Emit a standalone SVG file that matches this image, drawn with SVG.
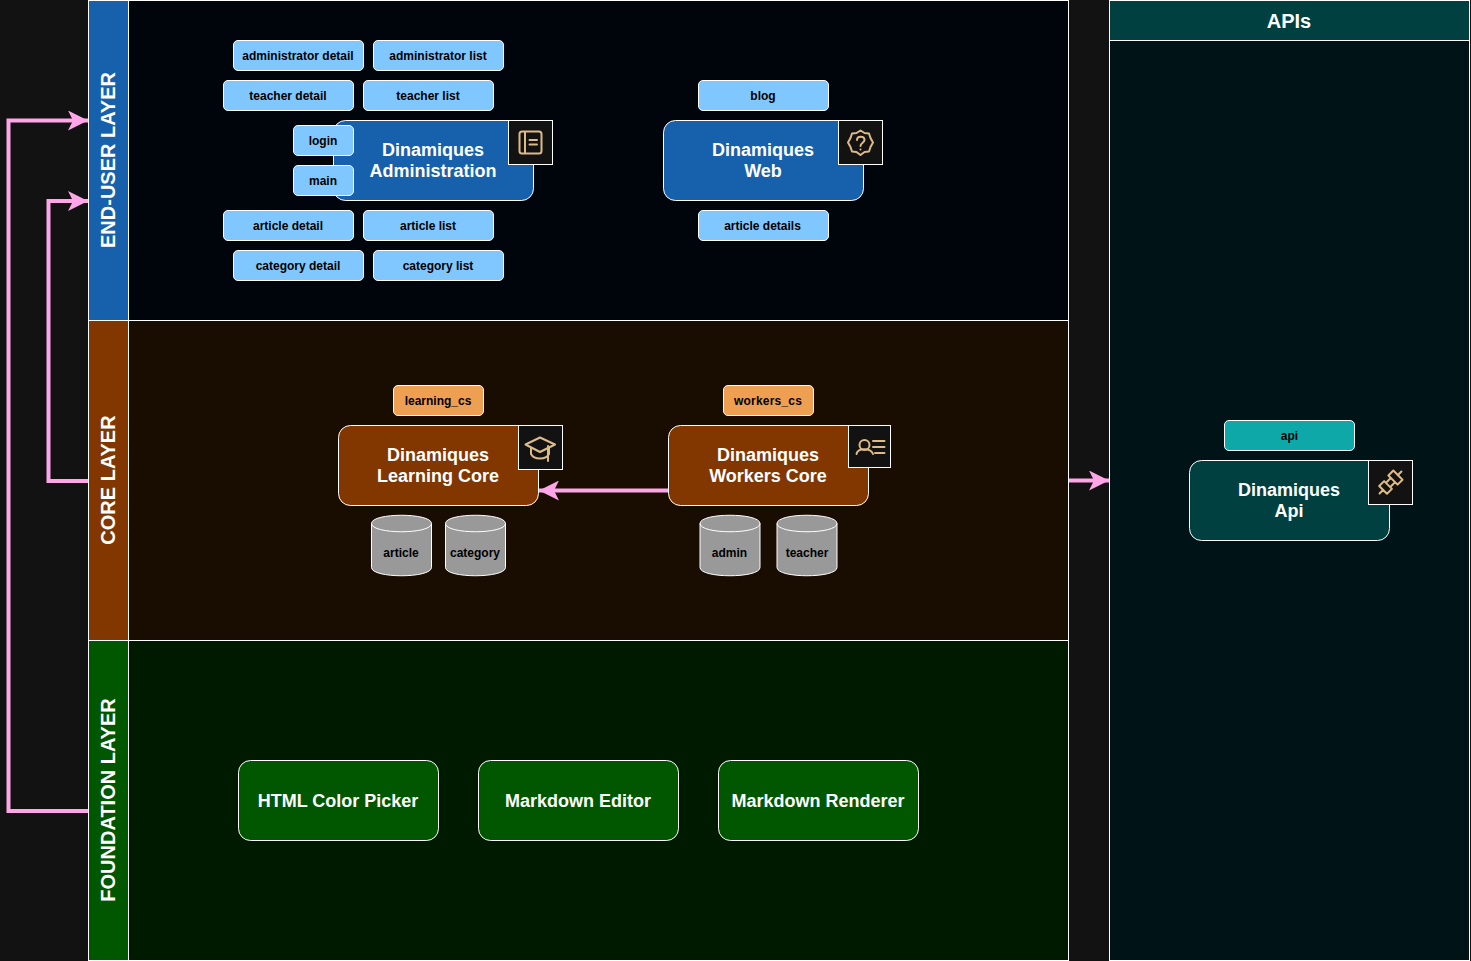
<svg xmlns="http://www.w3.org/2000/svg" width="1471" height="961" viewBox="0 0 1471 961">
<style>
text{font-family:"Liberation Sans",Arial,sans-serif;font-weight:bold;text-anchor:middle}
.ln{stroke:#fff;stroke-width:1}
.h{fill:#fff;font-size:20px}
.t{fill:#fff;font-size:18px}
.c{fill:#000;font-size:12px}
.chip{stroke:#fff;stroke-width:1}
.blue{fill:#80C7FF}.org{fill:#EE9F52}.teal{fill:#0FA8A8}
.icon{fill:#121212;stroke:#fff;stroke-width:1}
.gl{fill:none;stroke:#DDBB88;stroke-width:2;stroke-linecap:round;stroke-linejoin:round}
.cyl{fill:#999;stroke:#fff;stroke-width:1}
.cn{fill:none;stroke:#FFA6E9;stroke-width:4}
</style>
<defs>
<marker id="ah" viewBox="0 0 20 20" refX="20" refY="10" markerWidth="20" markerHeight="20" markerUnits="userSpaceOnUse" orient="auto"><path d="M0 0L20 10L0 20L5 10Z" fill="#FFA6E9"/></marker>
</defs>
<rect width="1471" height="961" fill="#121212"/>

<g id="layer-end-user"><rect class="ln" x="88.5" y="0.5" width="980" height="320" fill="#00050C"/><rect class="ln" x="88.5" y="0.5" width="40" height="320" fill="#1660AC"/><text class="h" transform="translate(114.500,160) rotate(-90)">END-USER LAYER</text></g>
<g id="layer-core"><rect class="ln" x="88.5" y="320.5" width="980" height="320" fill="#190C00"/><rect class="ln" x="88.5" y="320.5" width="40" height="320" fill="#823700"/><text class="h" transform="translate(114.500,480) rotate(-90)">CORE LAYER</text></g>
<g id="layer-foundation"><rect class="ln" x="88.5" y="640.5" width="980" height="320" fill="#001A00"/><rect class="ln" x="88.5" y="640.5" width="40" height="320" fill="#005700"/><text class="h" transform="translate(114.500,800) rotate(-90)">FOUNDATION LAYER</text></g>
<g id="layer-apis"><rect class="ln" x="1109.5" y="0.5" width="360" height="960" fill="#001417"/><rect class="ln" x="1109.5" y="0.5" width="360" height="40" fill="#004040"/><text class="h" x="1289" y="28">APIs</text></g>

<g id="connectors">
<path class="cn" marker-end="url(#ah)" d="M88 811H8.500V120.500H88"/>
<path class="cn" marker-end="url(#ah)" d="M88 481H48.500V201H88"/>
<path class="cn" marker-end="url(#ah)" d="M668 490.500H539"/>
<path class="cn" marker-end="url(#ah)" d="M1069 480.500H1109"/>
</g>

<g id="dinamiques-administration"><rect x="333.5" y="120.5" width="200" height="80" rx="12" fill="#1660AC" class="chip"/><text class="t" x="433" y="156">Dinamiques</text><text class="t" x="433" y="177">Administration</text>
<rect class="icon" x="508.5" y="120.5" width="44" height="44"/><g class="gl"><rect x="519.5" y="131.5" width="22" height="22" rx="2.5"/><path d="M525 132V153M529.5 140H537M529.5 144.5H537"/></g></g>
<g id="dinamiques-web"><rect x="663.5" y="120.5" width="200" height="80" rx="12" fill="#1660AC" class="chip"/><text class="t" x="763" y="156">Dinamiques</text><text class="t" x="763" y="177">Web</text>
<rect class="icon" x="838.5" y="120.5" width="44" height="44"/><path class="gl" d="M860.5 130.5L864.5 133L869 133.500L870.500 138L873 142.500L870.500 147L869 151.500L864.500 152L860.500 155L856.500 152L852 151.500L850.500 147L848 142.500L850.500 138L852 133.500L856.500 133Z"/><path class="gl" d="M857 140C857 135.500 864.500 135.500 864.500 140C864.500 142.500 860.500 143 860.500 146M860.500 149.500V149.600"/></g>
<g id="dinamiques-learning-core"><rect x="338.5" y="425.5" width="200" height="80" rx="12" fill="#823700" class="chip"/><text class="t" x="438" y="461">Dinamiques</text><text class="t" x="438" y="482">Learning Core</text>
<rect class="icon" x="518.5" y="425.5" width="44" height="44"/><g class="gl"><path d="M525.500 444.500L540 437.500L555 444.500L540 452Z"/><path d="M531 448V454C534 460 546 460 549 454V448M548 446L548 461"/></g></g>
<g id="dinamiques-workers-core"><rect x="668.5" y="425.5" width="200" height="80" rx="12" fill="#823700" class="chip"/><text class="t" x="768" y="461">Dinamiques</text><text class="t" x="768" y="482">Workers Core</text>
<rect class="icon" x="848.5" y="425.5" width="42" height="42"/><g class="gl"><circle cx="864.500" cy="445" r="5"/><path d="M856.500 454C857.500 447.500 871 447.500 873 454M873 441H884.500M873 447H884.500M875 453H884.500"/></g></g>
<g id="dinamiques-api"><rect x="1189.5" y="460.5" width="200" height="80" rx="12" fill="#004040" class="chip"/><text class="t" x="1289" y="496">Dinamiques</text><text class="t" x="1289" y="517">Api</text>
<rect class="icon" x="1368.5" y="460.5" width="44" height="44"/><g class="gl" transform="rotate(-45 1390.500 482.500)"><path d="M1375 482.500H1380M1401 482.500H1406M1380 477H1387V488H1380ZM1387 479.500H1390M1387 485.500H1390"/><path d="M1394 476H1401V489H1394ZM1394 479.500H1390.500M1394 485.500H1390.500"/></g></g>

<g id="html-color-picker"><rect x="238.5" y="760.5" width="200" height="80" rx="12" fill="#005700" class="chip"/><text class="t" x="338" y="807">HTML Color Picker</text></g>
<g id="markdown-editor"><rect x="478.5" y="760.5" width="200" height="80" rx="12" fill="#005700" class="chip"/><text class="t" x="578" y="807">Markdown Editor</text></g>
<g id="markdown-renderer"><rect x="718.5" y="760.5" width="200" height="80" rx="12" fill="#005700" class="chip"/><text class="t" x="818" y="807">Markdown Renderer</text></g>

<g id="chip-administrator-detail"><rect class="chip blue" x="233.5" y="40.5" width="130" height="30" rx="4.5"/><text class="c" x="298" y="60">administrator detail</text></g>
<g id="chip-administrator-list"><rect class="chip blue" x="373.5" y="40.5" width="130" height="30" rx="4.5"/><text class="c" x="438" y="60">administrator list</text></g>
<g id="chip-teacher-detail"><rect class="chip blue" x="223.5" y="80.5" width="130" height="30" rx="4.5"/><text class="c" x="288" y="100">teacher detail</text></g>
<g id="chip-teacher-list"><rect class="chip blue" x="363.5" y="80.5" width="130" height="30" rx="4.5"/><text class="c" x="428" y="100">teacher list</text></g>
<g id="chip-login"><rect class="chip blue" x="293.5" y="125.5" width="60" height="30" rx="4.5"/><text class="c" x="323" y="145">login</text></g>
<g id="chip-main"><rect class="chip blue" x="293.5" y="165.5" width="60" height="30" rx="4.5"/><text class="c" x="323" y="185">main</text></g>
<g id="chip-article-detail"><rect class="chip blue" x="223.5" y="210.5" width="130" height="30" rx="4.5"/><text class="c" x="288" y="230">article detail</text></g>
<g id="chip-article-list"><rect class="chip blue" x="363.5" y="210.5" width="130" height="30" rx="4.5"/><text class="c" x="428" y="230">article list</text></g>
<g id="chip-category-detail"><rect class="chip blue" x="233.5" y="250.5" width="130" height="30" rx="4.5"/><text class="c" x="298" y="270">category detail</text></g>
<g id="chip-category-list"><rect class="chip blue" x="373.5" y="250.5" width="130" height="30" rx="4.5"/><text class="c" x="438" y="270">category list</text></g>
<g id="chip-blog"><rect class="chip blue" x="698.5" y="80.5" width="130" height="30" rx="4.5"/><text class="c" x="763" y="100">blog</text></g>
<g id="chip-article-details"><rect class="chip blue" x="698.5" y="210.5" width="130" height="30" rx="4.5"/><text class="c" x="762.5" y="230">article details</text></g>
<g id="chip-learning-cs"><rect class="chip org" x="393.5" y="385.5" width="90" height="30" rx="4.5"/><text class="c" x="438" y="405">learning_cs</text></g>
<g id="chip-workers-cs"><rect class="chip org" x="723.5" y="385.5" width="90" height="30" rx="4.5"/><text class="c" x="768" y="405" letter-spacing="0.2">workers_cs</text></g>
<g id="chip-api"><rect class="chip teal" x="1224.5" y="420.5" width="130" height="30" rx="4.5"/><text class="c" x="1289.5" y="440">api</text></g>

<g id="db-article"><path class="cyl" d="M371.500 523.500C371.500 512.500 431.500 512.500 431.500 523.500V567.500C431.500 578.500 371.500 578.500 371.500 567.500Z"/><path class="cyl" d="M371.500 523.500C371.500 534.500 431.500 534.500 431.500 523.500" style="fill:none"/><text class="c" x="401" y="557">article</text></g>
<g id="db-category"><path class="cyl" d="M445.500 523.500C445.500 512.500 505.500 512.500 505.500 523.500V567.500C505.500 578.500 445.500 578.500 445.500 567.500Z"/><path class="cyl" d="M445.500 523.500C445.500 534.500 505.500 534.500 505.500 523.500" style="fill:none"/><text class="c" x="475" y="557">category</text></g>
<g id="db-admin"><path class="cyl" d="M700 523.500C700 512.500 760 512.500 760 523.500V567.500C760 578.500 700 578.500 700 567.500Z"/><path class="cyl" d="M700 523.500C700 534.500 760 534.500 760 523.500" style="fill:none"/><text class="c" x="729.500" y="557">admin</text></g>
<g id="db-teacher"><path class="cyl" d="M777 523.500C777 512.500 837 512.500 837 523.500V567.500C837 578.500 777 578.500 777 567.500Z"/><path class="cyl" d="M777 523.500C777 534.500 837 534.500 837 523.500" style="fill:none"/><text class="c" x="807" y="557">teacher</text></g>
</svg>
